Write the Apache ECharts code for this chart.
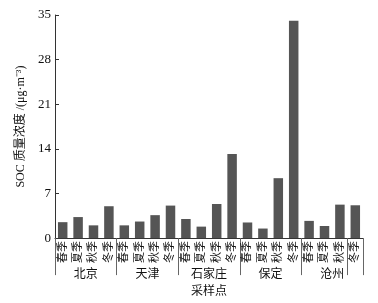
<!DOCTYPE html>
<html><head><meta charset="utf-8">
<script src="https://cdn.jsdelivr.net/npm/echarts@6/dist/echarts.min.js"></script>
<style>html,body{margin:0;padding:0;background:#fff}#c{width:378px;height:303px}</style>
</head><body><div id="c"></div>
<script>
const seasons = ['春季','夏季','秋季','冬季'];
const sites = ['北京','天津','石家庄','保定','沧州'];
const categories = [];
sites.forEach(s => seasons.forEach(q => categories.push(s + q)));
const socValues = [2.5, 3.3, 2.0, 5.0,
                   2.0, 2.6, 3.6, 5.1,
                   3.0, 1.8, 5.35, 13.2,
                   2.45, 1.5, 9.4, 34.1,
                   2.7, 1.9, 5.25, 5.15];
const yTicks = {min: 0, max: 35, interval: 7};
const serif = "'Liberation Serif','Noto Sans CJK SC',serif";
const chart = echarts.init(document.getElementById('c'));
chart.setOption({
  animation: false,
  backgroundColor: '#fff',
  grid: {left: 55, right: 15, top: 15, bottom: 63},
  xAxis: [{
    type: 'category',
    data: categories,
    axisLine: {lineStyle: {color: '#333', width: 1}},
    axisTick: {show: true, interval: 3, length: 37, lineStyle: {color: '#666'}},
    axisLabel: {interval: 0, rotate: 90, margin: 3, fontSize: 11, color: '#111',
      fontFamily: serif, formatter: v => v.slice(-2)}
  }, {
    type: 'category',
    data: sites,
    position: 'bottom',
    offset: 23,
    axisLine: {show: false},
    axisTick: {show: false},
    axisLabel: {interval: 0, fontSize: 12, color: '#111', fontFamily: serif},
    name: '采样点',
    nameLocation: 'middle',
    nameGap: 24,
    nameTextStyle: {fontSize: 12, color: '#111', fontFamily: serif}
  }],
  yAxis: {
    type: 'value', min: yTicks.min, max: yTicks.max, interval: yTicks.interval,
    axisLine: {show: true, lineStyle: {color: '#333', width: 1}},
    axisTick: {show: true, inside: true, length: 4, lineStyle: {color: '#333'}},
    axisLabel: {fontSize: 13, color: '#111', fontFamily: serif, margin: 4},
    splitLine: {show: false},
    name: 'SOC 质量浓度 /(μg·m⁻³)',
    nameLocation: 'middle',
    nameGap: 24,
    nameTextStyle: {fontSize: 12, color: '#111', fontFamily: serif}
  },
  series: [{
    type: 'bar',
    data: socValues,
    barWidth: 9.5,
    itemStyle: {color: '#555555'}
  }]
});
</script></body></html>
